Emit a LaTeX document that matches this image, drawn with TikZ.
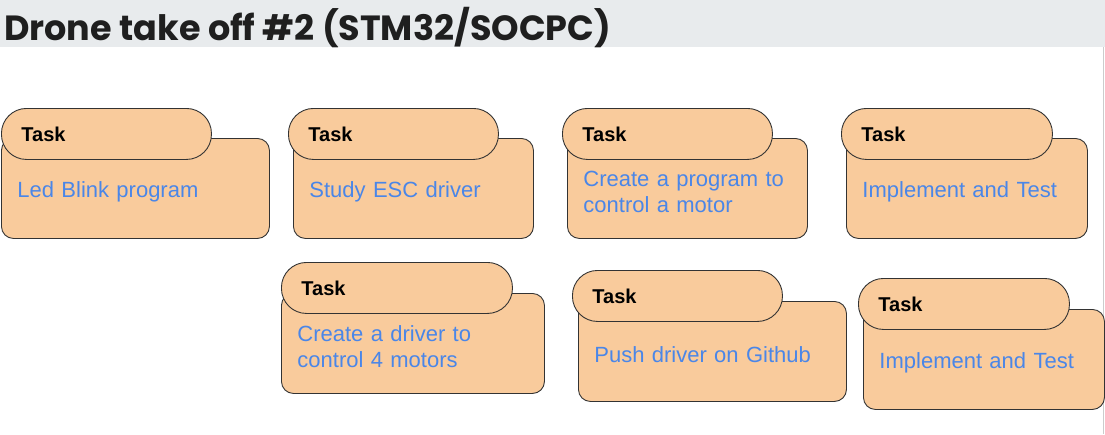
\documentclass[tikz,border=0pt]{standalone}
\usepackage{fontspec}
\setmainfont{Liberation Sans}
\newfontfamily\titlefont{Poppins}

\definecolor{taskfill}{HTML}{F9CB9C}
\definecolor{taskblue}{HTML}{4A86E8}
\definecolor{bargrey}{HTML}{E8EBED}

\begin{document}
\begin{tikzpicture}[x=1pt,y=-1pt]

\tikzset{
  task body/.style={
    draw=black!80,
    line width=0.9pt,
    fill=taskfill,
    rounded corners=12pt,
    anchor=north west,
    minimum height=100pt,
    inner xsep=16pt,
    inner ysep=0pt,
    align=left,
    text=taskblue,
    font=\fontsize{22}{26}\selectfont,
    execute at begin node={\rule{0pt}{22pt}},
  },
  task tab/.style={
    draw=black!80,
    line width=0.9pt,
    fill=taskfill,
    rounded corners=25pt,
    anchor=north west,
    minimum height=51pt,
    inner xsep=20pt,
    inner ysep=0pt,
    align=left,
    font=\bfseries\fontsize{20}{24}\selectfont,
  }
}

\useasboundingbox (0,0) rectangle (1105,434);

% Title bar
\fill[bargrey] (0,0) rectangle (1105,47);
\node[anchor=base west, inner sep=0pt, text=black!88,
  font=\titlefont\bfseries\fontsize{35}{40}\selectfont] (title) at (4,40)
  {Drone take off \#2 (STM32/SOCPC)};
\draw[black!20] (1103.5,47) -- (1103.5,434);

% Row 1
\node[task body, text width=236pt] (blink) at (1,138) {Led Blink program};
\node[task tab, text width=170pt] (blink tab) at (1,108) {Task};

\node[task body, text width=208pt] (esc) at (293,138) {Study ESC driver};
\node[task tab, text width=170pt] (esc tab) at (288,108) {Task};

\node[task body, text width=208pt] (motor) at (567,138) {Create a program to\\control a motor};
\node[task tab, text width=170pt] (motor tab) at (562,108) {Task};

\node[task body, text width=209pt] (test) at (846,138) {Implement and Test};
\node[task tab, text width=171pt] (test tab) at (841,108) {Task};

% Row 2 (cards step down a little)
\node[task body, text width=231pt] (driver) at (281,293) {Create a driver to\\control 4 motors};
\node[task tab, text width=191pt] (driver tab) at (281,262) {Task};

\node[task body, text width=236pt] (push) at (578,301) {Push driver on Github};
\node[task tab, text width=170pt] (push tab) at (572,270) {Task};

\node[task body, text width=209pt] (retest) at (863,309) {Implement and Test};
\node[task tab, text width=171pt] (retest tab) at (858,278) {Task};

\end{tikzpicture}
\end{document}
